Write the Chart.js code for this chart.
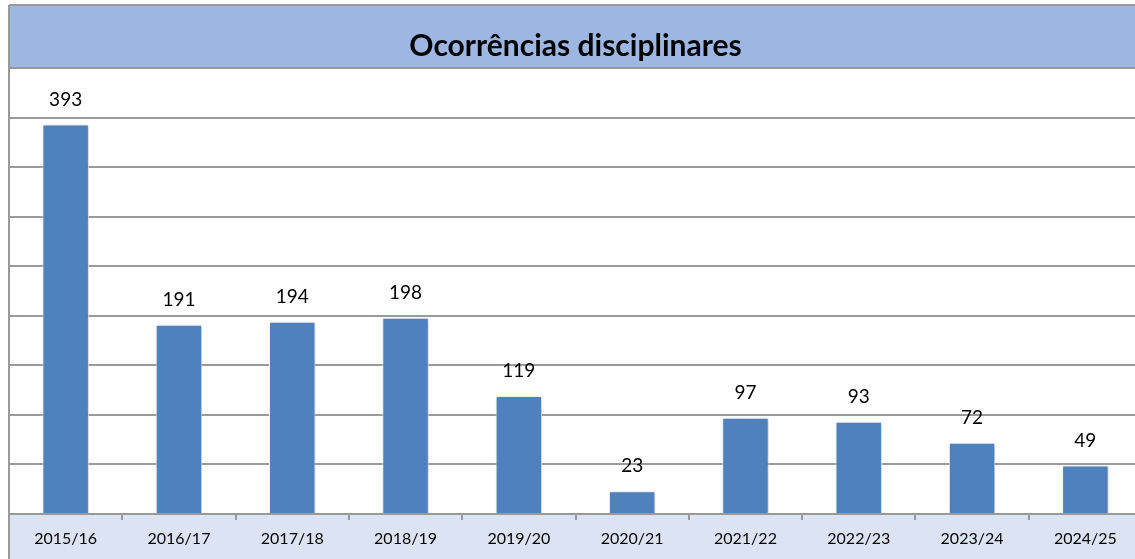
<!DOCTYPE html>
<html>
<head>
<meta charset="utf-8">
<script src="https://cdn.jsdelivr.net/npm/chart.js@4"></script>
<style>
  html, body { margin: 0; padding: 0; background: #fff; overflow: hidden; }
  #wrap { width: 1142px; height: 559px; position: relative; }
</style>
</head>
<body>
<div id="wrap"><canvas id="chart"></canvas></div>
<script>
const categories = ['2015/16', '2016/17', '2017/18', '2018/19', '2019/20', '2020/21', '2021/22', '2022/23', '2023/24', '2024/25'];
const occurrences = [393, 191, 194, 198, 119, 23, 97, 93, 72, 49];
const chartTitle = 'Ocorrências disciplinares';

// bands behind the title and the category axis, plus the outer frame
const framePlugin = {
  id: 'frame',
  beforeDraw(chart) {
    const { ctx, chartArea, width, height } = chart;
    ctx.save();
    ctx.fillStyle = '#9db7e3';
    ctx.fillRect(9, 6, width - 9, chartArea.top - 6);
    ctx.fillStyle = '#dce3f2';
    ctx.fillRect(9, chartArea.bottom, width - 9, height - chartArea.bottom);
    ctx.strokeStyle = '#999';
    ctx.lineWidth = 2;
    ctx.beginPath();
    ctx.moveTo(9, 5);
    ctx.lineTo(width, 5);
    ctx.moveTo(9, 5);
    ctx.lineTo(9, height);
    ctx.stroke();
    ctx.restore();
  }
};

// soft shadow on the bars
const shadowPlugin = {
  id: 'barShadow',
  beforeDatasetsDraw(chart) {
    const ctx = chart.ctx;
    ctx.save();
    ctx.shadowColor = 'rgba(0,0,0,0.25)';
    ctx.shadowBlur = 4;
    ctx.shadowOffsetX = 1;
    ctx.shadowOffsetY = 1;
  },
  afterDatasetsDraw(chart) {
    chart.ctx.restore();
  }
};

// value labels above each bar
const valueLabels = {
  id: 'valueLabels',
  afterDatasetsDraw(chart) {
    const { ctx } = chart;
    const meta = chart.getDatasetMeta(0);
    ctx.save();
    ctx.font = '19px Lato, "Open Sans", sans-serif';
    ctx.fillStyle = '#000';
    ctx.textAlign = 'center';
    ctx.textBaseline = 'middle';
    meta.data.forEach((bar, i) => {
      ctx.fillText(String(occurrences[i]), bar.x, bar.y - 25);
    });
    ctx.restore();
  }
};

new Chart(document.getElementById('chart'), {
  type: 'bar',
  data: {
    labels: categories,
    datasets: [{
      data: occurrences,
      backgroundColor: '#4f81bd',
      borderColor: '#ffffff',
      borderWidth: 1,
      categoryPercentage: 1,
      barPercentage: 0.41
    }]
  },
  options: {
    responsive: true,
    maintainAspectRatio: false,
    animation: false,
    layout: { padding: { top: 6, left: 9, right: 0, bottom: 0 } },
    plugins: {
      legend: { display: false },
      tooltip: { enabled: false },
      title: {
        display: true,
        text: chartTitle,
        color: '#000',
        font: { family: 'Lato, "Open Sans", sans-serif', size: 30, weight: 'bold', lineHeight: 1.2 },
        padding: { top: 22, bottom: 4 }
      }
    },
    scales: {
      x: {
        grid: { drawOnChartArea: false, drawTicks: true, tickLength: 6, color: '#999', lineWidth: 2 },
        border: { display: true, color: '#999', width: 2 },
        ticks: { color: '#000', padding: 9, font: { family: 'Lato, "Open Sans", sans-serif', size: 16 } },
        afterFit(scale) { scale.height = 45; }
      },
      y: {
        min: 0,
        max: 450,
        ticks: { stepSize: 50, display: false },
        grid: { color: '#9a9a9a', lineWidth: 2, drawTicks: false },
        border: { display: false },
        afterFit(scale) { scale.width = 0; }
      }
    }
  },
  plugins: [framePlugin, shadowPlugin, valueLabels]
});
</script>
</body>
</html>
